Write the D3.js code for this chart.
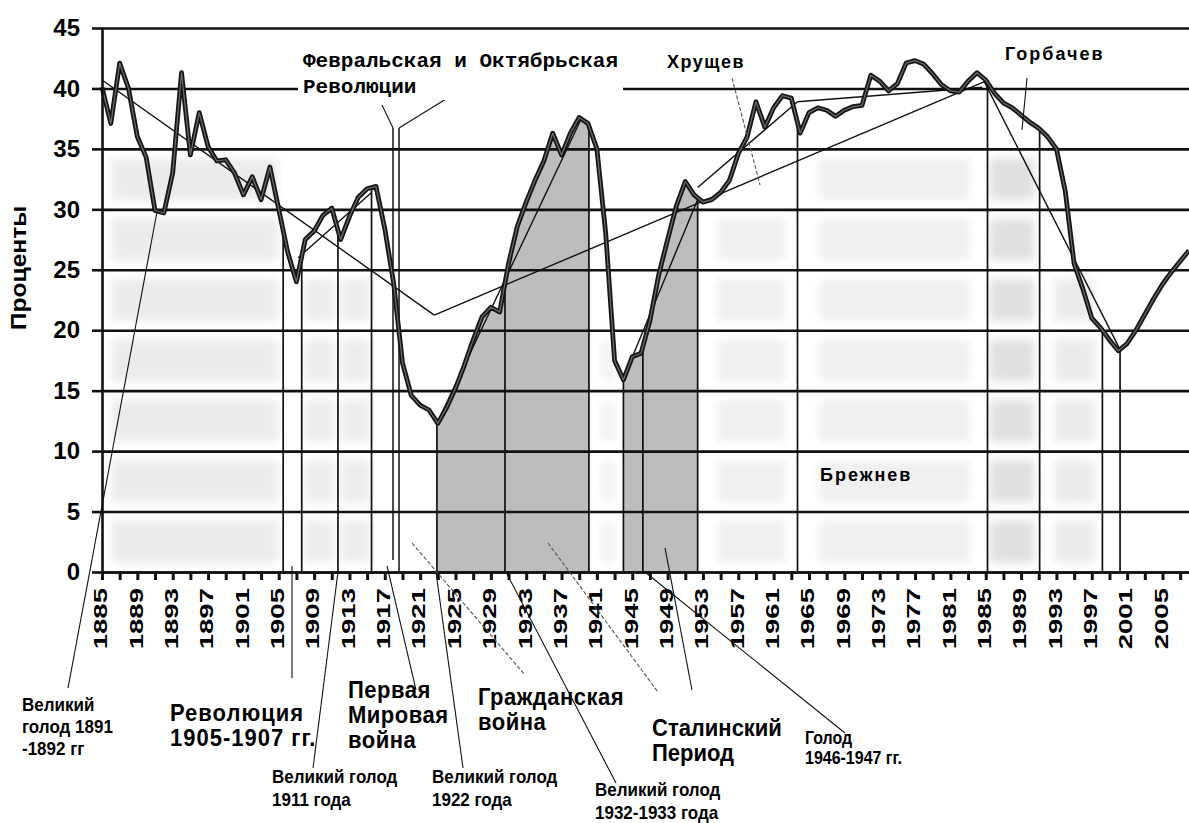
<!DOCTYPE html>
<html>
<head>
<meta charset="utf-8">
<script src="https://cdn.jsdelivr.net/npm/d3@7"></script>
<style>
  body { margin: 0; background: #fff; }
  text { font-family: "Liberation Sans", Arial, sans-serif; font-weight: bold; fill: #000; }
</style>
</head>
<body>
<div id="chart"></div>
<script>
// yearly series, 1885..2008, percent
var years = d3.range(1885, 2009);
var values = [
  40.1, 37.1, 42.1, 40.0, 36.0, 34.3, 29.9, 29.7, 33.0, 41.3,   // 1885-1894
  34.5, 38.0, 35.2, 34.0, 34.1, 33.0, 31.2, 32.7, 30.8, 33.5,   // 1895-1904
  30.0, 26.5, 24.0, 27.5, 28.2, 29.5, 30.1, 27.5, 29.4, 31.0,   // 1905-1914
  31.7, 31.9, 28.4, 23.9, 17.3, 14.6, 13.8, 13.4, 12.3, 13.6,   // 1915-1924
  15.2, 17.1, 19.2, 21.1, 21.9, 21.5, 25.5, 28.6, 30.6, 32.4,   // 1925-1934
  34.0, 36.3, 34.5, 36.3, 37.6, 37.1, 35.0, 28.0, 17.5, 15.9,   // 1935-1944
  17.8, 18.1, 20.8, 24.6, 27.5, 30.3, 32.3, 31.2, 30.6, 30.8,   // 1945-1954
  31.4, 32.4, 34.6, 36.0, 38.9, 36.8, 38.4, 39.4, 39.2, 36.3,   // 1955-1964
  38.0, 38.4, 38.2, 37.7, 38.2, 38.5, 38.6, 41.1, 40.6, 39.8,   // 1965-1974
  40.4, 42.1, 42.3, 42.0, 41.2, 40.3, 39.8, 39.7, 40.6, 41.3,   // 1975-1984
  40.7, 39.6, 38.8, 38.4, 37.8, 37.2, 36.7, 36.0, 35.0, 31.5,   // 1985-1994
  25.5, 23.4, 21.0, 20.2, 19.2, 18.3, 18.9, 20.0, 21.3, 22.6,   // 1995-2004
  23.8, 24.8, 25.7, 26.6                                        // 2005-2008
];

var yTicks = [0, 5, 10, 15, 20, 25, 30, 35, 40, 45];
var xTicks = d3.range(1885, 2008, 2);
var xLabels = d3.range(1885, 2008, 4);

// straight trend segments [year, value]
var trends = [
  [[1885, 40.7], [1922.6, 21.25]],
  [[1922.6, 21.25], [1985, 40.6]],
  [[1907.2, 26.0], [1915.5, 31.4]],
  [[1922.9, 12.3], [1939.3, 37.6]],
  [[1944.0, 16.0], [1952.4, 30.8]],
  [[1952.4, 31.8], [1963.7, 38.9]],
  [[1963.7, 38.9], [1984.6, 40.1]],
  [[1984.8, 40.6], [2000.2, 18.4]]
];

// drop lines from the curve down to the axis (years)
var dropYears = [1905.5, 1907.6, 1911.7, 1915.5, 1922.9, 1930.6, 1940.1, 1944.0,
                 1946.2, 1952.4, 1963.7, 1985.2, 1991.1, 1998.2, 2000.2];

// shaded periods under the curve
var shaded = [[1922.9, 1940.1], [1944.0, 1952.4]];

// revolution markers: [year, top value, bottom value]
var revLines = [[1917.93, 36.73, 0.99], [1918.61, 36.73, 0]];

// callout lines [[year, value], [year, value], style]
var callouts = [
  [[1881.15, -9.60], [1891.22, 29.78], "solid"],
  [[1906.50, 0.50], [1906.50, -8.77], "solid"],
  [[1908.88, -16.21], [1911.70, 0], "solid"],
  [[1917.25, 0.50], [1920.53, -9.76], "solid"],
  [[1922.79, 0], [1925.85, -16.21], "solid"],
  [[1920.08, 2.40], [1932.86, -8.52], "dash"],
  [[1930.71, 0], [1943.16, -17.45], "solid"],
  [[1935.47, 2.40], [1947.91, -9.93], "dash"],
  [[1948.71, 1.99], [1951.76, -9.76], "solid"],
  [[1946.44, 0], [1969.07, -13.32], "solid"],
  [[1956.29, 40.86], [1959.46, 32.01], "dash"],
  [[1989.67, 40.86], [1989.10, 36.56], "solid"],
  [[1917.93, 36.73], [1916.68, 38.63], "solid"],
  [[1918.61, 36.73], [1927.77, 40.86], "solid"]
];

// faint blurred background cells [fromYear, toYear, topValue, colour]
var cells = [
  [1886.1, 1904.9, 35, "#ebebeb"],
  [1908.0, 1911.2, 25, "#ececec"],
  [1912.1, 1915.3, 25, "#ececec"],
  [1941.6, 1942.9, 20, "#f2f2f2"],
  [1954.6, 1962.3, 30, "#f0f0f0"],
  [1966.2, 1983.2, 35, "#f0f0f0"],
  [1985.5, 1990.5, 35, "#e0e0e0"],
  [1992.8, 1997.3, 25, "#eaeaea"]
];

var W = 1189, H = 823;
var x = d3.scaleLinear().domain([1885, 2008]).range([102, 1189]);
var y = d3.scaleLinear().domain([0, 45]).range([572, 28]);

var svg = d3.select("#chart").append("svg")
    .attr("width", W)
    .attr("height", H);

svg.append("rect").attr("width", W).attr("height", H).attr("fill", "#fff");

svg.append("defs").append("filter")
    .attr("id", "soft")
    .attr("x", "-20%").attr("y", "-50%").attr("width", "140%").attr("height", "200%")
    .append("feGaussianBlur").attr("stdDeviation", 4.5);

function valueAt(t) {
  var i = Math.max(0, Math.min(years.length - 2, Math.floor(t - years[0])));
  return values[i] + (values[i + 1] - values[i]) * (t - years[i]);
}

// faint cells
var cellG = svg.append("g").attr("filter", "url(#soft)");
cells.forEach(function(c) {
  d3.range(0, c[2], 5).forEach(function(v) {
    cellG.append("rect")
        .attr("x", x(c[0]))
        .attr("width", x(c[1]) - x(c[0]))
        .attr("y", y(v + 4.2))
        .attr("height", y(v + 0.8) - y(v + 4.2))
        .attr("fill", c[3]);
  });
});

// grey areas
var area = d3.area()
    .x(function(d) { return x(d); })
    .y0(y(0))
    .y1(function(d) { return y(valueAt(d)); });
shaded.forEach(function(p) {
  var pts = [p[0]].concat(years.filter(function(d) { return d > p[0] && d < p[1]; }), [p[1]]);
  svg.append("path").datum(pts).attr("d", area).attr("fill", "#bdbdbd");
});

// gridlines
svg.append("g")
    .attr("transform", "translate(" + x(1885) + ",0)")
    .call(d3.axisLeft(y).tickValues(yTicks).tickSize(-(x.range()[1] - x.range()[0])).tickFormat(""))
    .call(function(g) { g.select(".domain").remove(); })
    .selectAll("line").attr("stroke", "#111").attr("stroke-width", 2.6);

// drop lines
svg.append("g").selectAll("line")
    .data(dropYears)
    .join("line")
    .attr("x1", function(d) { return x(d); })
    .attr("x2", function(d) { return x(d); })
    .attr("y1", function(d) { return y(valueAt(d)); })
    .attr("y2", y(0))
    .attr("stroke", "#111")
    .attr("stroke-width", 1.7);

svg.append("g").selectAll("line")
    .data(revLines)
    .join("line")
    .attr("x1", function(d) { return x(d[0]); })
    .attr("x2", function(d) { return x(d[0]); })
    .attr("y1", function(d) { return y(d[1]); })
    .attr("y2", function(d) { return y(d[2]); })
    .attr("stroke", "#111")
    .attr("stroke-width", 1.5);

// trend lines
svg.append("g").selectAll("line")
    .data(trends)
    .join("line")
    .attr("x1", function(d) { return x(d[0][0]); })
    .attr("y1", function(d) { return y(d[0][1]); })
    .attr("x2", function(d) { return x(d[1][0]); })
    .attr("y2", function(d) { return y(d[1][1]); })
    .attr("stroke", "#111")
    .attr("stroke-width", 1.4);

// main curve (dark outline with a lighter core, like the scan)
var line = d3.line()
    .x(function(d, i) { return x(years[i]); })
    .y(function(d) { return y(d); });
svg.append("path").datum(values).attr("d", line)
    .attr("fill", "none").attr("stroke", "#151515").attr("stroke-width", 4.8)
    .attr("stroke-linejoin", "round");
svg.append("path").datum(values).attr("d", line)
    .attr("fill", "none").attr("stroke", "#6e6e6e").attr("stroke-width", 1.2)
    .attr("stroke-linejoin", "round");

// y axis
var yAx = svg.append("g")
    .attr("transform", "translate(" + x(1885) + ",0)")
    .call(d3.axisLeft(y).tickValues(yTicks).tickSize(10).tickSizeOuter(0).tickPadding(12));
yAx.select(".domain").attr("stroke", "#111").attr("stroke-width", 2.6);
yAx.selectAll("line").attr("stroke", "#111").attr("stroke-width", 2.6);
yAx.selectAll("text")
    .attr("font-size", 24)
    .attr("font-family", "Liberation Sans, Arial, sans-serif")
    .attr("font-weight", "bold");

// x axis
var xAx = svg.append("g")
    .attr("transform", "translate(0," + y(0) + ")")
    .call(d3.axisBottom(x).tickValues(xTicks).tickSize(8).tickSizeOuter(0).tickFormat(""));
xAx.select(".domain").attr("stroke", "#111").attr("stroke-width", 2.6);
xAx.selectAll("line").attr("stroke", "#111").attr("stroke-width", 3);

svg.append("g").selectAll("text")
    .data(xLabels)
    .join("text")
    .attr("transform", function(d) { return "translate(" + x(d) + "," + (y(0) + 16) + ") scale(1,1.45) rotate(-90)"; })
    .attr("text-anchor", "end")
    .attr("dy", "0.28em")
    .attr("font-size", 19)
    .text(function(d) { return d; });

// y title
svg.append("text")
    .attr("transform", "translate(18,268) scale(1,1.12) rotate(-90)")
    .attr("text-anchor", "middle")
    .attr("dy", "0.35em")
    .attr("font-size", 22)
    .text("Проценты");

// callouts
svg.append("g").selectAll("line")
    .data(callouts)
    .join("line")
    .attr("x1", function(d) { return x(d[0][0]); })
    .attr("y1", function(d) { return y(d[0][1]); })
    .attr("x2", function(d) { return x(d[1][0]); })
    .attr("y2", function(d) { return y(d[1][1]); })
    .attr("stroke", function(d) { return d[2] === "dash" ? "#555" : "#111"; })
    .attr("stroke-width", 1.1)
    .attr("stroke-dasharray", function(d) { return d[2] === "dash" ? "4,2" : null; });

// text labels
function put(px, py, str, size, opts) {
  opts = opts || {};
  return svg.append("text")
      .attr("transform", "translate(" + px + "," + py + ") scale(1," + (opts.sy || 1) + ")")
      .attr("font-size", size)
      .attr("letter-spacing", opts.ls || 0)
      .style("font-family", opts.family || null)
      .text(str);
}

// revolutions header, with a white backing that breaks the 40 gridline
var mono = { family: "'Liberation Mono', 'Courier New', monospace", ls: 0 };
var h1 = put(303, 67, "Февральская и Октябрьская", 21, mono);
put(303, 93, "Революции", 21, mono);
var b1 = h1.node().getBBox();
svg.insert("rect", function() { return h1.node(); })
    .attr("x", 298).attr("y", 46)
    .attr("width", b1.width + 10)
    .attr("height", 54)
    .attr("fill", "#fff");

put(667, 68, "Хрущев", 18, { ls: 1.5 });
put(1005, 60, "Горбачев", 18, { ls: 2 });
put(820, 481, "Брежнев", 18, { ls: 2 });

var notes = [
  [22, 711, ["Великий", "голод 1891", "-1892 гг"], 17, 22, 0],
  [170, 721, ["Революция", "1905-1907 гг."], 22, 25, 1],
  [348, 698, ["Первая", "Мировая", "война"], 22, 25, 0.5],
  [478, 705, ["Гражданская", "война"], 22, 25, 0.5],
  [652, 736, ["Сталинский", "Период"], 22, 25, 0],
  [272, 783, ["Великий голод", "1911 года"], 17, 23, 0],
  [432, 783, ["Великий голод", "1922 года"], 17, 23, 0],
  [595, 796, ["Великий голод", "1932-1933 года"], 17, 23, 0],
  [805, 744, ["Голод", "1946-1947 гг."], 16, 20, 0]
];
notes.forEach(function(n) {
  n[2].forEach(function(s, i) {
    put(n[0], n[1] + i * n[4], s, n[3], { ls: n[5], sy: 1.1 });
  });
});
</script>
</body>
</html>
